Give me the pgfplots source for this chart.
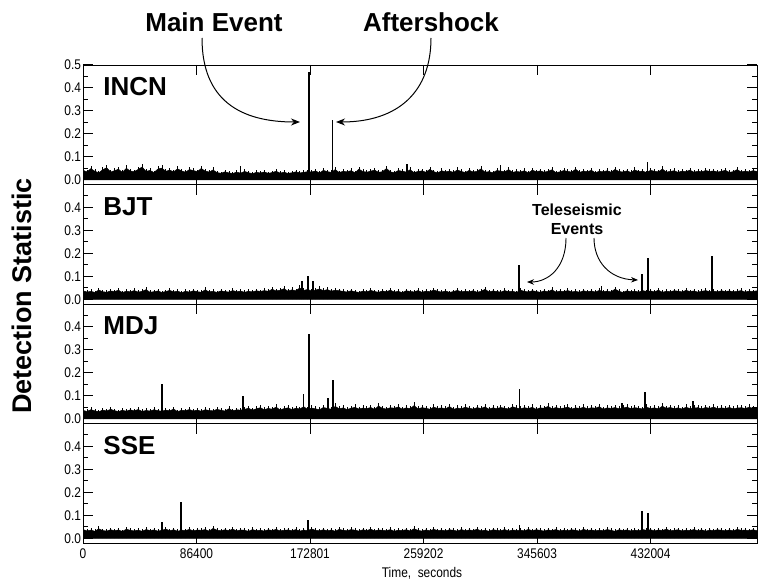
\documentclass[border=0pt]{standalone}
\usepackage{fontspec}
\setmainfont{Liberation Sans}
\newfontfamily\narrow[FakeStretch=0.85]{Liberation Sans}
\usepackage{pgfplots}
\usepackage{pgfplotstable}
\pgfplotsset{compat=1.18}
\usetikzlibrary{arrows.meta}

% Detection-statistic background level per station, in thousandths,
% one row every 3000 s from t = 0 s.
\pgfplotstableread{
incn bjt mdj sse
52 47 46 48
44 40 41 41
61 44 50 45
47 38 44 39
39 51 39 52
55 42 48 43
66 39 43 40
43 46 52 47
50 43 45 42
58 50 40 46
41 37 47 38
63 45 42 50
48 41 49 44
45 48 44 41
57 40 51 45
70 44 41 39
46 53 46 48
52 39 43 43
40 42 50 46
59 46 45 40
64 38 42 44
47 43 48 51
53 49 44 42
44 41 53 47
60 45 40 39
49 37 47 45
42 44 45 43
56 40 51 49
51 47 43 41
45 42 48 46
62 39 42 44
48 52 50 48
43 41 46 40
54 44 44 54
40 38 52 45
36 46 47 42
44 43 43 47
38 40 55 43
35 48 45 50
42 42 49 41
37 45 48 46
46 39 52 44
39 44 58 39
34 41 48 48
41 47 55 42
38 43 61 45
43 48 50 40
36 44 57 47
40 55 53 43
47 46 64 49
37 50 49 41
42 58 56 44
35 45 60 46
39 52 51 42
44 47 58 48
38 62 54 40
41 49 66 45
45 54 52 43
43 46 59 51
49 51 55 44
38 57 50 42
52 48 62 47
45 53 57 41
41 45 53 46
56 50 68 39
40 47 55 49
47 44 60 44
44 40 51 42
50 47 58 48
39 42 63 45
58 38 54 40
46 45 59 47
42 41 56 43
48 49 62 50
53 43 52 41
41 39 70 46
45 46 57 44
62 42 54 42
44 50 61 48
39 40 58 39
51 44 65 45
47 37 53 43
43 47 60 47
55 43 56 41
40 41 72 52
46 48 55 44
49 39 61 40
42 45 58 46
57 42 53 42
45 51 64 49
38 44 57 43
50 40 60 45
44 46 55 41
48 38 67 47
41 43 52 44
54 49 59 40
46 41 56 48
40 45 63 42
52 42 58 46
43 47 54 43
47 39 61 50
60 44 57 41
42 55 65 45
45 41 53 39
39 46 60 47
51 43 56 44
48 40 62 42
44 48 58 48
56 42 54 40
41 45 66 46
46 38 59 43
43 50 55 45
50 44 61 41
38 41 57 49
53 47 63 42
45 43 52 47
49 39 60 44
42 46 58 40
47 42 68 46
55 52 55 43
40 40 62 48
44 45 56 41
51 43 59 45
46 48 64 42
43 41 54 47
58 44 60 44
41 39 57 40
48 47 63 49
45 42 55 43
52 46 61 46
39 40 58 41
47 49 66 45
44 43 53 42
50 45 60 48
42 41 57 44
57 56 62 39
46 44 55 47
43 38 59 43
49 47 64 46
41 42 56 41
54 45 61 45
45 40 58 42
48 48 54 48
40 43 63 44
52 46 57 47
47 41 60 41
44 50 55 46
59 39 69 43
43 44 58 50
46 42 62 42
50 47 56 44
41 45 60 47
48 41 54 41
45 49 63 45
53 43 57 43
42 46 59 48
47 40 61 42
44 44 55 46
51 48 62 40
46 42 58 45
49 45 64 43
43 41 56 47
47 47 60 44
52 43 57 42
41 46 62 46
45 42 55 41
56 44 59 49
43 48 61 44
48 40 57 45
44 45 63 43
50 43 58 47
46 47 60 42
}\noise

\pgfplotsset{
  panel/.style={
    scale only axis, width=674bp, height=119.5bp,
    anchor=north west,
    xmin=0, xmax=513060, ymin=-0.02, ymax=0.5,
    scaled x ticks=false, scaled y ticks=false,
    xtick={0,86400,172801,259202,345603,432004},
    xticklabels={},
    minor x tick num=4,
    ytick={0,0.1,0.2,0.3,0.4,0.5},
    yticklabels={0.0,0.1,0.2,0.3,0.4,},
    minor y tick num=1,
    tick align=inside,
    major tick length=10bp, minor tick length=5bp,
    tick style={black, line width=1bp},
    axis line style={line width=0.8bp},
    ticklabel style={font=\narrow\fontsize{14bp}{14bp}\selectfont},
    yticklabel style={xshift=1.5bp},
    xticklabel style={yshift=-2bp},
  },
}
\tikzset{
  band/.style={fill=black, draw=black, line width=0.5bp, line join=miter},
  stem/.style={black, line width=0.6bp},
  event/.style={black, line width=1.1bp},
  station/.style={anchor=north west, inner sep=0pt,
    font=\bfseries\fontsize{26bp}{26bp}\selectfont},
}
% solid lower part of the background band and its peaks
\newcommand\background[1]{%
  \addplot[band] table[x expr=\coordindex*3000, y expr=\thisrow{#1}*0.0008] {\noise} \closedcycle;
  \addplot[ycomb, stem] table[x expr=\coordindex*3000, y expr=\thisrow{#1}/1000] {\noise};
}

\begin{document}
\begin{tikzpicture}
\begin{scope}[x=1bp, y=-1bp]
\useasboundingbox (0,0) rectangle (758,584);
\end{scope}

% ---------------- INCN ----------------
\begin{axis}[panel, at={(83bp,-65bp)}, yticklabels={0.0,0.1,0.2,0.3,0.4,0.5}]
\background{incn}
\addplot[ycomb, event] coordinates {(172000,0.47) (190000,0.26) (246600,0.07)
  (318000,0.065) (430000,0.08) (120000,0.062)};
\node[station] at (rel axis cs:0.03,0.895) {INCN};
\end{axis}

% ---------------- BJT ----------------
\begin{axis}[panel, at={(83bp,-184.5bp)}]
\background{bjt}
\addplot[ycomb, event] coordinates {(166700,0.08) (171300,0.10) (175100,0.08)
  (331900,0.15) (395000,0.06) (425500,0.11) (430100,0.18) (478800,0.19)};
\node[station] at (rel axis cs:0.03,0.895) {BJT};
\end{axis}

% ---------------- MDJ ----------------
\begin{axis}[panel, at={(83bp,-304bp)}]
\background{mdj}
\addplot[ycomb, event] coordinates {(60100,0.15) (121800,0.10) (167500,0.11)
  (172000,0.37) (186500,0.09) (190300,0.17) (332600,0.13) (410300,0.07)
  (427800,0.115) (464300,0.08)};
\node[station] at (rel axis cs:0.03,0.895) {MDJ};
\end{axis}

% ---------------- SSE ----------------
\begin{axis}[panel, at={(83bp,-423.5bp)},
  xticklabels={0,86400,172801,259202,345603,432004}]
\background{sse}
\addplot[ycomb, event] coordinates {(60100,0.07) (74600,0.16) (171300,0.08)
  (332600,0.06) (425500,0.12) (430100,0.11)};
\node[station] at (rel axis cs:0.03,0.895) {SSE};
\end{axis}

% ---------------- annotations ----------------
\begin{scope}[x=1bp, y=-1bp]
\node[font=\bfseries\fontsize{26bp}{26bp}\selectfont] at (214,22) {Main Event};
\node[font=\bfseries\fontsize{26bp}{26bp}\selectfont] at (431,22) {Aftershock};
\draw[line width=1bp, -{Stealth[length=9bp,width=7bp]}]
  (202,38) .. controls (202,100) and (240,122) .. (300,122);
\draw[line width=1bp, -{Stealth[length=9bp,width=7bp]}]
  (431,38) .. controls (431,92) and (398,122) .. (336,122);

\node[font=\bfseries\fontsize{16bp}{16bp}\selectfont] at (577,210) {Teleseismic};
\node[font=\bfseries\fontsize{16bp}{16bp}\selectfont] at (577,229) {Events};
\draw[line width=0.9bp, -{Stealth[length=7bp,width=5.5bp]}]
  (566,238) .. controls (566,268) and (548,282) .. (527,282);
\draw[line width=0.9bp, -{Stealth[length=7bp,width=5.5bp]}]
  (594,238) .. controls (594,262) and (610,279) .. (638,280);

\node[rotate=90, font=\bfseries\fontsize{27bp}{27bp}\selectfont] at (22,296)
  {Detection Statistic};
\node[font=\narrow\fontsize{14bp}{14bp}\selectfont] at (422,573) {Time,\ \ seconds};
\end{scope}
\end{tikzpicture}
\end{document}
